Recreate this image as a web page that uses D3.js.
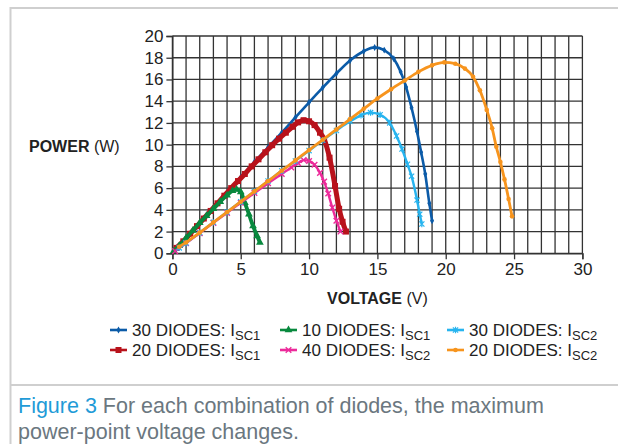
<!DOCTYPE html>
<html><head><meta charset="utf-8">
<script src="https://cdn.jsdelivr.net/npm/d3@7"></script>
<style>
html,body{margin:0;padding:0;background:#fff;}
svg{display:block;font-family:"Liberation Sans",Arial,Helvetica,sans-serif;}
</style></head>
<body>
<svg id="chart" width="618" height="444"></svg>
<script>
// ---- data (voltage V, power W) ----
const xTicks = [0,5,10,15,20,25,30];
const yTicks = [0,2,4,6,8,10,12,14,16,18,20];

const blue30Isc1 = [[0.3,0.4],[1,1.4],[2,2.8],[3,4.2],[4,5.6],[5,7.0],[6,8.4],[7,9.75],[8,11.1],[9,12.5],[10,13.9],[11,15.25],[12,16.55],[13,17.75],[14,18.6],[14.8,18.95],[15.5,18.7],[16.2,17.9],[16.7,16.7],[17.1,15.3],[17.5,13.4],[17.9,11.2],[18.2,9.3],[18.5,7.3],[18.8,4.6],[19.0,3.0]];
const red20Isc1 = [[0.3,0.5],[0.8,1.1],[1.3,1.8],[1.8,2.5],[2.3,3.2],[2.8,3.9],[3.3,4.6],[3.8,5.3],[4.3,6.0],[4.8,6.65],[5.3,7.3],[5.8,8.0],[6.3,8.65],[6.8,9.3],[7.3,9.95],[7.8,10.55],[8.3,11.1],[8.8,11.65],[9.2,12.05],[9.6,12.25],[10.0,12.15],[10.4,11.8],[10.8,11.1],[11.1,10.5],[11.5,8.8],[11.9,6.2],[12.2,4.1],[12.45,2.9],[12.7,2.0]];
const green10Isc1 = [[0.1,0.2],[0.5,0.7],[1,1.4],[1.5,2.1],[2,2.8],[2.5,3.45],[3,4.1],[3.5,4.75],[4,5.35],[4.4,5.75],[4.7,5.88],[5.0,5.65],[5.3,4.65],[5.6,3.6],[5.9,2.5],[6.2,1.6],[6.4,1.0]];
const magenta40Isc2 = [[0.2,0.2],[1,0.93],[2,1.86],[3,2.8],[4,3.72],[5,4.65],[6,5.55],[7,6.45],[8,7.3],[8.7,7.9],[9.2,8.3],[9.6,8.58],[10.0,8.5],[10.4,8.15],[10.8,7.4],[11.1,6.6],[11.4,5.5],[11.7,4.2],[12.0,3.0],[12.3,2.0]];
const lblue30Isc2 = [[0.5,0.5],[1,0.95],[2,1.9],[3,2.85],[4,3.8],[5,4.75],[6,5.7],[7,6.65],[8,7.6],[9,8.5],[10,9.45],[11,10.4],[12,11.3],[13,12.15],[13.8,12.7],[14.5,12.95],[15.2,12.75],[15.9,12.0],[16.4,10.8],[16.8,9.6],[17.2,8.2],[17.5,7.1],[17.9,4.9],[18.1,3.6],[18.25,2.7]];
const orange20Isc2 = [[0.5,0.6],[1,1.0],[2,1.9],[3,2.85],[4,3.8],[5,4.75],[6,5.7],[7,6.65],[8,7.6],[9,8.55],[10,9.5],[11,10.45],[12,11.4],[13,12.35],[14,13.3],[15,14.25],[16,15.1],[17,15.9],[18,16.7],[19,17.3],[19.9,17.57],[20.7,17.45],[21.4,17.0],[22,16.25],[22.5,15.0],[23,13.2],[23.4,11.5],[23.7,9.8],[24.0,8.4],[24.3,6.8],[24.6,5.0],[24.85,3.4]];

const seriesNames = ["30 DIODES: I|SC1","10 DIODES: I|SC1","30 DIODES: I|SC2","20 DIODES: I|SC1","40 DIODES: I|SC2","20 DIODES: I|SC2"];
const captionLabel = "Figure 3";
const captionLine1 = " For each combination of diodes, the maximum";
const captionLine2 = "power-point voltage changes.";

// ---- setup ----
const svg = d3.select("#chart");
const x = d3.scaleLinear().domain([0,30]).range([172.4,582.4]);
const y = d3.scaleLinear().domain([0,20]).range([253.3,36]);

// frame
svg.append("line").attr("x1",10.5).attr("x2",10.5).attr("y1",7).attr("y2",444).attr("stroke","#cfcfcf").attr("stroke-width",2);
svg.append("line").attr("x1",10).attr("x2",618).attr("y1",8).attr("y2",8).attr("stroke","#cfcfcf").attr("stroke-width",2);
svg.append("line").attr("x1",10).attr("x2",618).attr("y1",385).attr("y2",385).attr("stroke","#cfcfcf").attr("stroke-width",2);

// grid
const grid = svg.append("g").attr("stroke","#333").attr("stroke-width",1.3);
grid.selectAll("line.v").data(d3.range(0,31,1)).join("line")
  .attr("x1",d=>x(d)).attr("x2",d=>x(d)).attr("y1",y(0)).attr("y2",y(20));
grid.selectAll("line.h").data(d3.range(0,21,2)).join("line").attr("class","h")
  .attr("x1",x(0)).attr("x2",x(30)).attr("y1",d=>y(d)).attr("y2",d=>y(d));

// axes
const yAxis = svg.append("g").attr("transform",`translate(${x(0)},0)`)
  .call(d3.axisLeft(y).tickValues(yTicks).tickSize(6).tickPadding(3));
const xAxis = svg.append("g").attr("transform",`translate(0,${y(0)})`)
  .call(d3.axisBottom(x).tickValues(xTicks).tickSize(6).tickPadding(4));
[yAxis,xAxis].forEach(a=>{
  a.select(".domain").attr("stroke","#333").attr("stroke-width",1.3);
  a.selectAll(".tick line").attr("stroke","#333").attr("stroke-width",1.3);
  a.selectAll(".tick text").attr("font-size",17).attr("fill","#222").attr("font-family","Liberation Sans, Arial, sans-serif");
});

// axis titles
const yt = svg.append("text").attr("x",29).attr("y",152).attr("font-size",16).attr("fill","#222");
yt.append("tspan").attr("font-weight","bold").text("POWER");
yt.append("tspan").text(" (W)");
const xt = svg.append("text").attr("x",x(15)).attr("y",304).attr("text-anchor","middle").attr("font-size",16).attr("fill","#222");
xt.append("tspan").attr("font-weight","bold").text("VOLTAGE");
xt.append("tspan").text(" (V)");

// marker shapes
function drawMarker(g, type, color){
  if(type==="diamond"){
    g.append("path").attr("d",d3.symbol(d3.symbolDiamond,14)()).attr("fill",color);
  } else if(type==="square"){
    g.append("rect").attr("x",-3).attr("y",-3).attr("width",6).attr("height",6).attr("fill",color);
  } else if(type==="triangle"){
    g.append("path").attr("d",d3.symbol(d3.symbolTriangle,26)()).attr("fill",color);
  } else if(type==="asterisk"){
    g.append("path").attr("d","M-2.6,-2.6L2.6,2.6M-2.6,2.6L2.6,-2.6M0,-3.2L0,3.2").attr("stroke",color).attr("stroke-width",1.2).attr("fill","none");
  } else if(type==="x"){
    g.append("path").attr("d","M-2.8,-2.8L2.8,2.8M-2.8,2.8L2.8,-2.8").attr("stroke",color).attr("stroke-width",1.4).attr("fill","none");
  } else if(type==="circle"){
    g.append("circle").attr("r",2.3).attr("fill",color);
  }
}

// draw order: blue, red, green, magenta, light blue, orange
const series = [
  {data:blue30Isc1, color:"#0b5ba8", marker:"diamond", w:2.6, leg:0},
  {data:red20Isc1, color:"#b8121b", marker:"square", w:5, leg:3},
  {data:green10Isc1, color:"#08893e", marker:"triangle", w:3.8, leg:1},
  {data:magenta40Isc2, color:"#ec2a9a", marker:"x", w:2.4, leg:4},
  {data:lblue30Isc2, color:"#27b4ef", marker:"asterisk", w:2.4, leg:2},
  {data:orange20Isc2, color:"#f7941d", marker:"circle", w:2.8, leg:5}
];
const line = d3.line().x(d=>x(d[0])).y(d=>y(d[1])).curve(d3.curveMonotoneX);
series.forEach(s=>{
  const g = svg.append("g");
  g.append("path").attr("d",line(s.data)).attr("fill","none").attr("stroke",s.color).attr("stroke-width",s.w).attr("stroke-linejoin","round");
  g.selectAll("g.m").data(s.data).join("g").attr("transform",d=>`translate(${x(d[0])},${y(d[1])})`)
    .each(function(){ drawMarker(d3.select(this), s.marker, s.color); });
});

// legend
const legCols = [110,280,447];
const legRows = [336,356];
series.slice().sort((a,b)=>a.leg-b.leg).forEach((s,i)=>{
  const cx = legCols[i%3], by = legRows[Math.floor(i/3)];
  const g = svg.append("g");
  g.append("line").attr("x1",cx).attr("x2",cx+17).attr("y1",by-6).attr("y2",by-6).attr("stroke",s.color).attr("stroke-width",2.6);
  const mg = g.append("g").attr("transform",`translate(${cx+8.5},${by-6})`);
  drawMarker(mg, s.marker, s.color);
  const [main,sub] = seriesNames[s.leg].split("|");
  const t = g.append("text").attr("x",cx+22).attr("y",by).attr("font-size",17).attr("fill","#222");
  t.append("tspan").text(main);
  t.append("tspan").attr("font-size",13).attr("dy",4).text(sub);
});

// caption
const c1 = svg.append("text").attr("x",18).attr("y",413).attr("font-size",21.5).attr("fill","#6b7780");
c1.append("tspan").attr("fill","#1f9bd7").text(captionLabel);
c1.append("tspan").text(captionLine1);
svg.append("text").attr("x",18).attr("y",439).attr("font-size",21.5).attr("fill","#6b7780").text(captionLine2);
</script>
</body></html>
